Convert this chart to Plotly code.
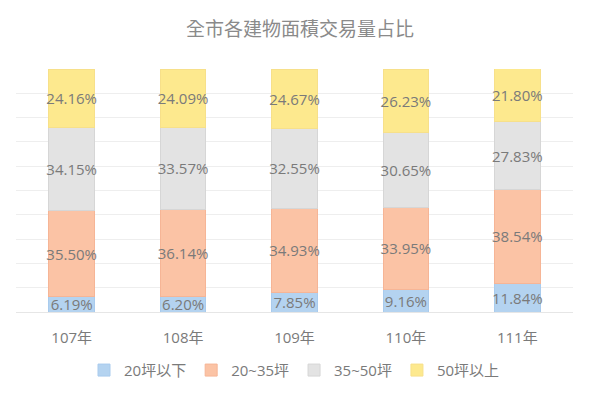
import plotly.graph_objects as go

categories = ["107年", "108年", "109年", "110年", "111年"]
series_names = ["20坪以下", "20~35坪", "35~50坪", "50坪以上"]
s_under20 = [6.19, 6.20, 7.85, 9.16, 11.84]
s_20_35 = [35.50, 36.14, 34.93, 33.95, 38.54]
s_35_50 = [34.15, 33.57, 32.55, 30.65, 27.83]
s_over50 = [24.16, 24.09, 24.67, 26.23, 21.80]

series_values = [s_under20, s_20_35, s_35_50, s_over50]
colors = ["#b4d3f0", "#fbc3a5", "#e3e3e3", "#fde98e"]
line_colors = ["#a9cbed", "#f6b596", "#d6d6d6", "#f7e08a"]

FONT = "Open Sans, Noto Sans CJK TC, sans-serif"

fig = go.Figure()
for name, vals, c, lc in zip(series_names, series_values, colors, line_colors):
    fig.add_trace(go.Bar(
        x=categories, y=vals, name=name,
        marker=dict(color=c, line=dict(color=lc, width=1)),
        text=[f"{v:.2f}%" for v in vals],
        textposition="inside", insidetextanchor="middle", textangle=0,
        textfont=dict(color="#7a7a7a", size=15, family=FONT),
        constraintext="none",
        hoverinfo="skip",
    ))

fig.update_layout(
    barmode="stack",
    bargap=0.59,
    width=600, height=400,
    paper_bgcolor="white", plot_bgcolor="white",
    margin=dict(l=16, r=27, t=69, b=88),
    title=dict(text="全市各建物面積交易量占比", x=0.5, xanchor="center",
               y=0.927, yanchor="middle",
               font=dict(size=19, color="#8a8a8a", family=FONT)),
    font=dict(family=FONT, color="#7a7a7a"),
    legend=dict(orientation="h", x=0.5, xanchor="center", y=-0.24, yanchor="middle",
                font=dict(size=15, color="#7a7a7a", family=FONT),
                itemwidth=30, traceorder="normal", itemclick=False),
    showlegend=True,
)
fig.update_xaxes(showline=False, ticks="outside", ticklen=12, tickcolor="rgba(0,0,0,0)",
                 tickfont=dict(size=15, color="#7a7a7a"), showgrid=False)
fig.update_yaxes(range=[0, 100], dtick=10, showticklabels=False, showgrid=True,
                 gridcolor="#eeeeee", gridwidth=1, zeroline=True,
                 zerolinecolor="#e6e6e6", zerolinewidth=1, showline=False)

fig.write_html("out.html")
